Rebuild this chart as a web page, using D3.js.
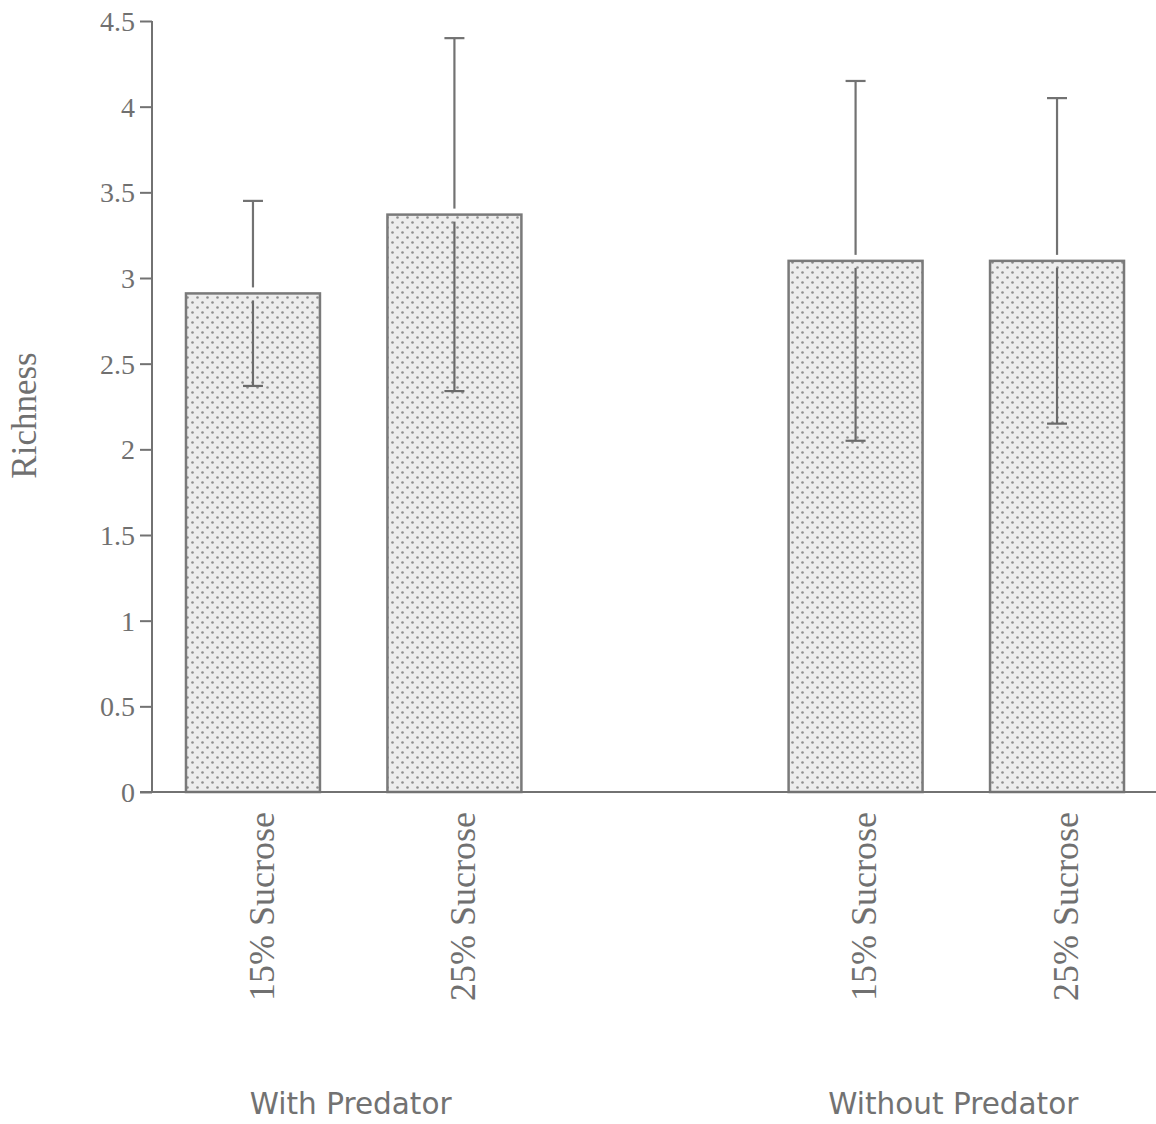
<!DOCTYPE html>
<html>
<head>
<meta charset="utf-8">
<script src="https://cdn.jsdelivr.net/npm/d3@7"></script>
<style>
  html, body { margin: 0; padding: 0; background: #ffffff; }
  svg { display: block; }
</style>
</head>
<body>
<script>
// ---- data ----
const groups = ["With Predator", "Without Predator"];
const categories = ["15% Sucrose", "25% Sucrose"];
const withPredatorMeans = [2.91, 3.37];
const withoutPredatorMeans = [3.10, 3.10];
const withPredatorErrors = [0.54, 1.03];
const withoutPredatorErrors = [1.05, 0.95];
const yTicks = [0, 0.5, 1, 1.5, 2, 2.5, 3, 3.5, 4, 4.5];
const yLabel = "Richness";

const meansByGroup = [withPredatorMeans, withoutPredatorMeans];
const errorsByGroup = [withPredatorErrors, withoutPredatorErrors];
const rows = [];
groups.forEach((g, gi) => categories.forEach((c, ci) => {
  rows.push({group: g, cat: c, mean: meansByGroup[gi][ci], err: errorsByGroup[gi][ci]});
}));

// ---- layout ----
const W = 1156, H = 1124;
const axisX = 152, y0 = 792, yTop = 21;
const grey = "#727272";

const svg = d3.select("body").append("svg").attr("width", W).attr("height", H);

const defs = svg.append("defs");
const pat = defs.append("pattern").attr("id", "dots").attr("patternUnits", "userSpaceOnUse")
  .attr("width", 10).attr("height", 10);
pat.append("rect").attr("width", 10).attr("height", 10).attr("fill", "#ededed");
pat.append("circle").attr("cx", 2.5).attr("cy", 2.5).attr("r", 1.3).attr("fill", "#8e8e8e");
pat.append("circle").attr("cx", 7.5).attr("cy", 7.5).attr("r", 1.3).attr("fill", "#8e8e8e");

const y = d3.scaleLinear().domain([0, 4.5]).range([y0, yTop]);
const x0 = d3.scaleBand().domain(groups).range([axisX, 1158]).paddingInner(0.4434).paddingOuter(0.0564);
const x1 = d3.scaleBand().domain(categories).range([0, x0.bandwidth()]).paddingInner(0.335).paddingOuter(0);

// bars
const bars = svg.append("g");
bars.selectAll("rect").data(rows).join("rect")
  .attr("x", d => x0(d.group) + x1(d.cat))
  .attr("y", d => y(d.mean))
  .attr("width", x1.bandwidth())
  .attr("height", d => y(0) - y(d.mean))
  .attr("fill", "url(#dots)")
  .attr("stroke", "#7a7a7a")
  .attr("stroke-width", 2.5);

// error bars
const eb = svg.append("g").attr("stroke", grey).attr("stroke-width", 2.2).attr("fill", "none");
const cx = d => x0(d.group) + x1(d.cat) + x1.bandwidth() / 2;
rows.forEach(d => {
  const c = cx(d);
  eb.append("line").attr("x1", c).attr("x2", c).attr("y1", y(d.mean + d.err)).attr("y2", y(d.mean) - 6);
  eb.append("line").attr("x1", c).attr("x2", c).attr("y1", y(d.mean) + 7).attr("y2", y(d.mean - d.err))
    .attr("stroke", "#6a6a6a");
  eb.append("line").attr("x1", c - 10).attr("x2", c + 10).attr("y1", y(d.mean + d.err)).attr("y2", y(d.mean + d.err));
  eb.append("line").attr("x1", c - 10).attr("x2", c + 10).attr("y1", y(d.mean - d.err)).attr("y2", y(d.mean - d.err))
    .attr("stroke", "#6a6a6a");
});

// y axis
const yAxis = d3.axisLeft(y).tickValues(yTicks).tickFormat(d3.format("")).tickSize(12).tickPadding(5);
const ga = svg.append("g").attr("transform", `translate(${axisX},0)`).call(yAxis);
ga.select(".domain").remove();
ga.append("line").attr("x1", 0).attr("x2", 0).attr("y1", yTop).attr("y2", y0).attr("stroke", grey).attr("stroke-width", 2);
ga.selectAll(".tick line").attr("stroke", grey).attr("stroke-width", 2);
ga.selectAll(".tick text").attr("fill", "#707070").attr("font-family", "'Liberation Serif', serif")
  .attr("font-size", 28).attr("dy", "0.34em");

// x axis baseline
svg.append("line").attr("x1", axisX - 12).attr("x2", W).attr("y1", y0).attr("y2", y0)
  .attr("stroke", grey).attr("stroke-width", 2.2);

// y label
svg.append("text").attr("transform", `translate(36,${(yTop + y0) / 2 + 9}) rotate(-90)`)
  .attr("text-anchor", "middle").attr("fill", "#707070")
  .attr("font-family", "'Liberation Serif', serif").attr("font-size", 35).text(yLabel);

// category labels
svg.append("g").selectAll("text").data(rows).join("text")
  .attr("transform", d => `translate(${cx(d) + 8},812) rotate(-90)`)
  .attr("text-anchor", "end").attr("dy", "0.35em").attr("fill", "#707070")
  .attr("font-family", "'Liberation Serif', serif").attr("font-size", 36)
  .text(d => d.cat);

// group labels
svg.append("g").selectAll("text").data(groups).join("text")
  .attr("x", g => x0(g) + x0.bandwidth() / 2 - 3).attr("y", 1114)
  .attr("text-anchor", "middle").attr("fill", "#727272")
  .attr("font-family", "'DejaVu Sans', sans-serif").attr("font-size", 29.5)
  .text(g => g);
</script>
</body>
</html>
